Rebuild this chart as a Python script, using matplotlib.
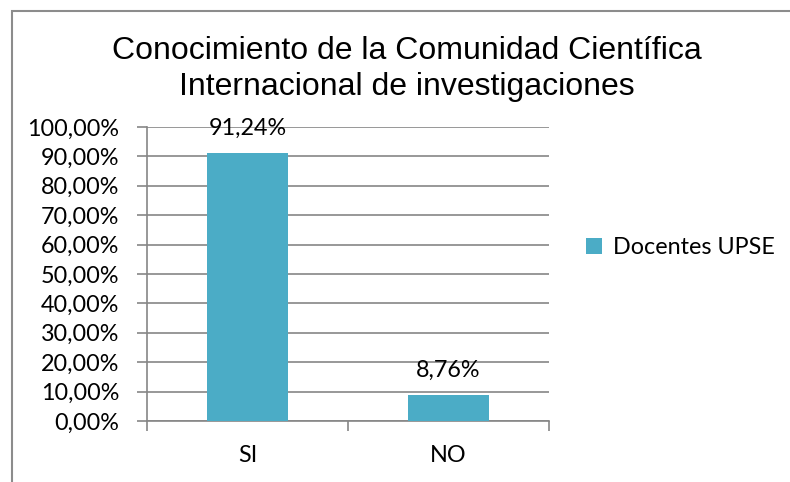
import matplotlib
matplotlib.use("Agg")
import matplotlib.pyplot as plt
from matplotlib.patches import Rectangle
from matplotlib.ticker import FixedLocator

categories = ["SI", "NO"]
values = [91.24, 8.76]
series_name = "Docentes UPSE"
title = "Conocimiento de la Comunidad Científica\nInternacional de investigaciones"
yticks = list(range(0, 101, 10))

W, H = 790, 482
fig = plt.figure(figsize=(W / 100, H / 100), dpi=100)
ax = fig.add_axes([147 / W, 1 - 421 / H, (549 - 147) / W, (421 - 127) / H])

bar_color = "#4BACC6"
grid_color = "#868686"
lab_font = ["Lato", "DejaVu Sans"]
fs = 16.8

x = list(range(len(categories)))
bars = ax.bar(x, values, width=0.4, color=bar_color, label=series_name, zorder=3)
ax.set_xlim(-0.5, len(categories) - 0.5)
ax.set_ylim(0, 100)
ax.set_yticks(yticks)
ax.set_yticklabels([f"{v:.2f}".replace(".", ",") + "%" for v in yticks],
                   fontsize=fs, family=lab_font)
ax.yaxis.grid(True, color=grid_color, linewidth=1.2, zorder=0)
ax.set_axisbelow(True)

ax.set_xticks(x)
ax.set_xticklabels(categories, fontsize=fs, family=lab_font)
ax.tick_params(axis="x", which="major", length=0, pad=17)
ax.xaxis.set_minor_locator(FixedLocator([-0.5, 0.5, 1.5]))
ax.tick_params(axis="x", which="minor", length=7, width=1.2, color=grid_color)
ax.tick_params(axis="y", length=7, width=1.2, color=grid_color, pad=13)

for s in ["top", "right"]:
    ax.spines[s].set_visible(False)
for s in ["left", "bottom"]:
    ax.spines[s].set_color(grid_color)
    ax.spines[s].set_linewidth(1.2)

for xi, v in zip(x, values):
    ax.annotate(f"{v:.2f}".replace(".", ",") + "%", (xi, v), xytext=(0, 13),
                textcoords="offset points", ha="center", va="baseline",
                fontsize=fs, family=lab_font)

fig.text(407 / W, 1 - 69 / H, title, ha="center", va="center", fontsize=23,
         family=["Liberation Sans", "DejaVu Sans"], linespacing=1.25)

leg = fig.legend(handles=[bars], labels=[series_name], loc="center left",
                 bbox_to_anchor=(586 / W, 1 - 248 / H), frameon=False,
                 prop={"family": lab_font, "size": fs},
                 handlelength=0.7, handleheight=0.7, handletextpad=0.45,
                 borderpad=0, borderaxespad=0)

fig.patches.append(Rectangle((12 / W, -0.1), 1.2, 1 - 11 / H + 0.1,
                             transform=fig.transFigure, fill=False,
                             edgecolor="#8c8c8c", linewidth=1.5))

fig.savefig("out.png", dpi=100)
